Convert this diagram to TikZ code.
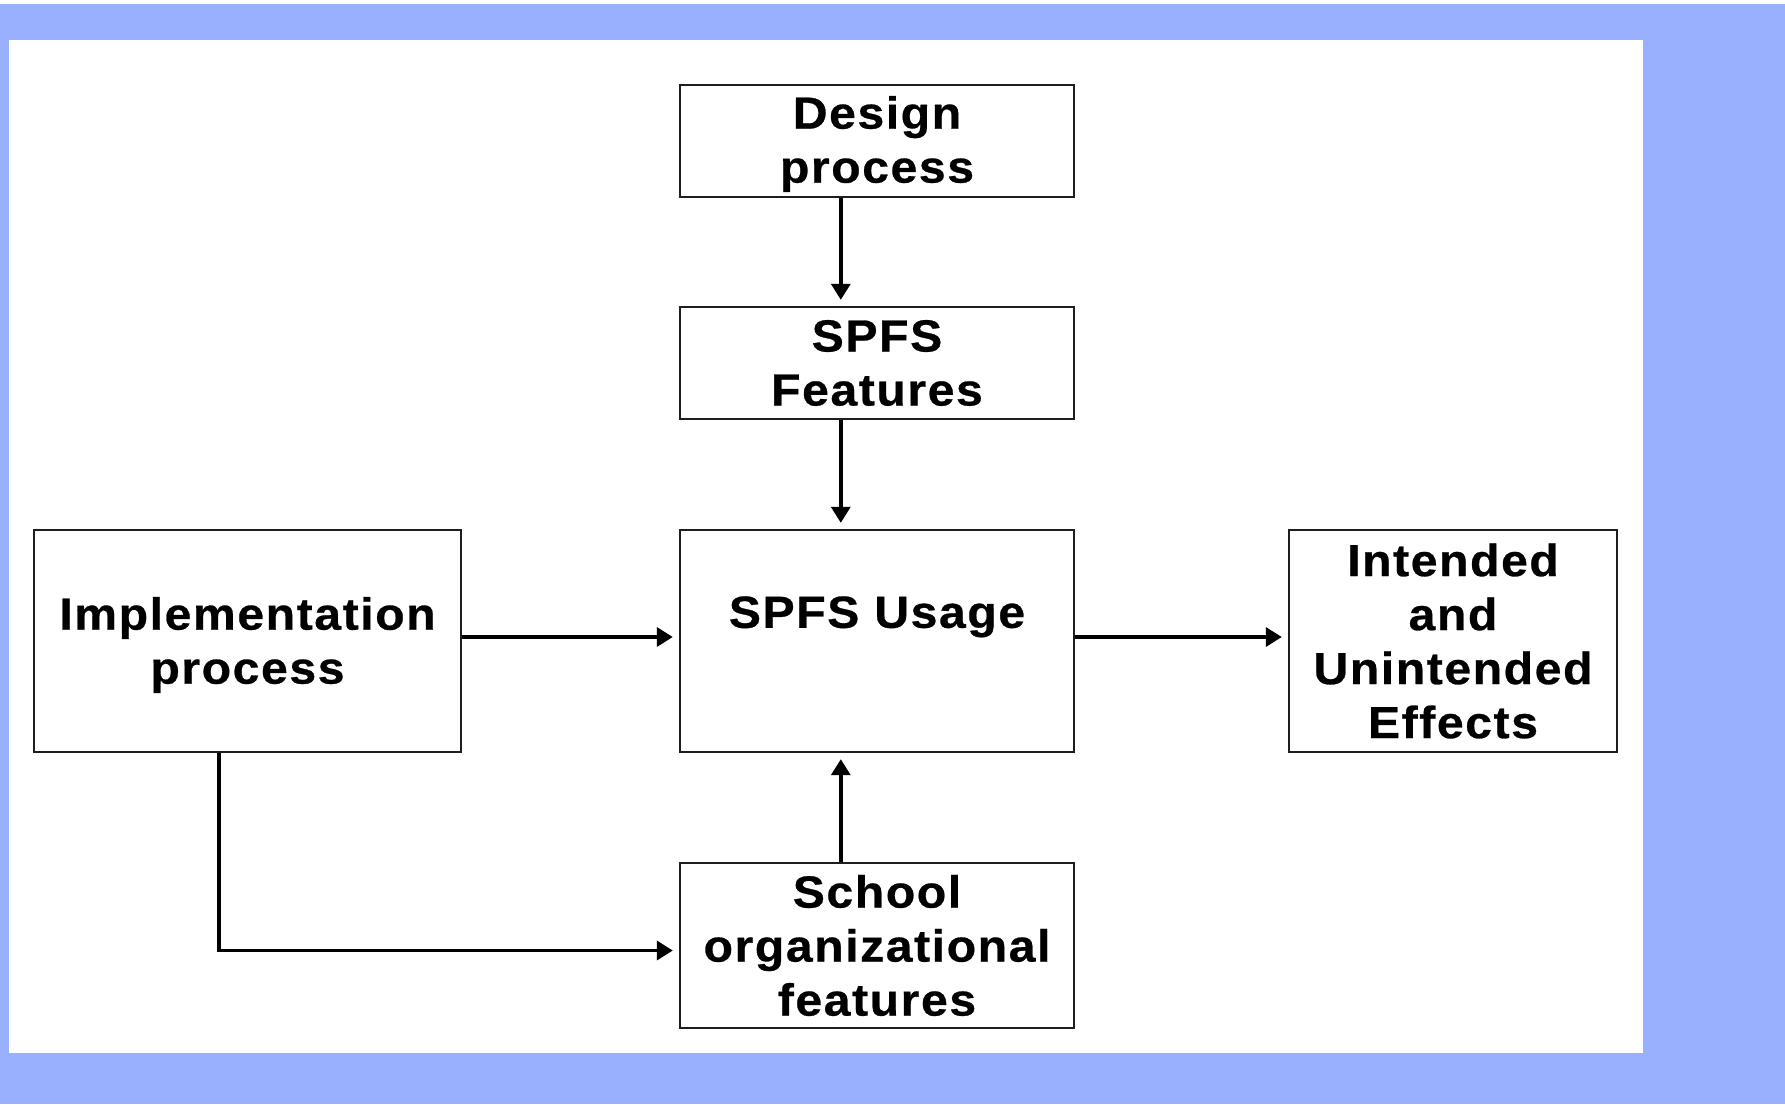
\documentclass[tikz,border=0pt]{standalone}
\usepackage{fontspec}
\setmainfont{Liberation Sans}[FakeStretch=1.07, LetterSpace=3.5, BoldFeatures={FakeBold=0.6}]
\usetikzlibrary{arrows.meta}
\definecolor{slideblue}{RGB}{153,175,255}
\definecolor{boxline}{RGB}{30,30,30}

\tikzset{
  stage/.style={draw=boxline, line width=2.4pt, fill=white, inner sep=0pt,
    align=center, font=\bfseries\fontsize{45}{54}\selectfont},
  labeltext/.style={inner sep=0pt, font=\bfseries\fontsize{45}{54}\selectfont},
  flow/.style={line width=3.5pt, draw=black,
    -{Triangle[length=16pt,width=19pt]}, shorten >=6pt}
}

\begin{document}
\begin{tikzpicture}[x=1pt,y=-1pt]
  % slide background
  \useasboundingbox (0,0) rectangle (1785,1104);
  \fill[white] (0,0) rectangle (1785,1104);
  \fill[slideblue] (0,4) rectangle (1785,1104);
  \fill[white] (9,40) rectangle (1643,1053);

  % boxes
  \node[stage, minimum width=394pt, minimum height=112pt] (design)   at (877,141)   {};
  \node[labeltext, align=center] (designlabel) at ([yshift=-3pt]design.center) {Design\\process};
  \node[stage, minimum width=394pt, minimum height=112pt] (features) at (877,363)   {SPFS\\Features};
  \node[stage, minimum width=394pt, minimum height=222pt] (usage)    at (877,641)   {};
  \node[labeltext, anchor=base] (usagelabel) at ([yshift=-99pt]usage.north) {SPFS Usage};
  \node[stage, minimum width=427pt, minimum height=222pt] (impl)     at (247.5,641) {};
  \node[labeltext, align=center] (impllabel) at ([yshift=-4pt]impl.center) {Implementation\\process};
  \node[stage, minimum width=328pt, minimum height=222pt] (intended) at (1453,641)  {Intended\\and\\Unintended\\Effects};
  \node[stage, minimum width=394pt, minimum height=165pt] (school)   at (877,945.5) {School\\organizational\\features};

  % connectors
  \draw[flow] ([xshift=162pt]design.south west) -- ([xshift=162pt]features.north west);
  \draw[flow] ([xshift=162pt]features.south west) -- ([xshift=162pt]usage.north west);
  \draw[flow] ([xshift=162pt]school.north west) -- ([xshift=162pt]usage.south west);
  \draw[flow] ([yshift=4pt]impl.east) -- ([yshift=4pt]usage.west);
  \draw[flow] ([yshift=4pt]usage.east) -- ([yshift=4pt]intended.west);
  \draw[flow] ([xshift=186pt]impl.south west) |- ([yshift=-5pt]school.west);
\end{tikzpicture}
\end{document}
